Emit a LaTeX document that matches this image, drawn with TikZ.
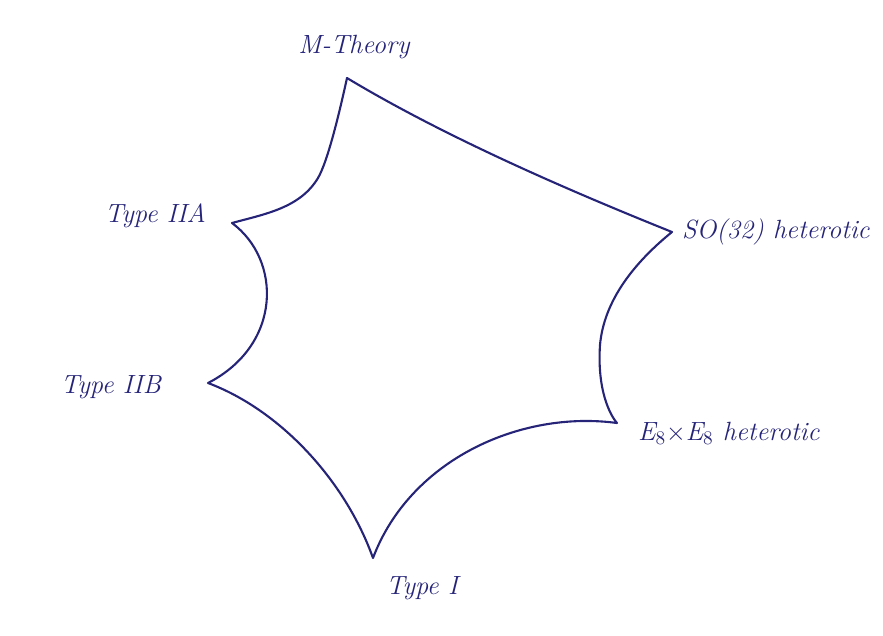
\documentclass[tikz,border=0pt]{standalone}
\begin{document}
\begin{tikzpicture}[x=0.02cm,y=-0.02cm,
  ink/.style={draw=inkblue,line width=1.2pt,line join=round},
  lab/.style={text=inkblue,font=\fontsize{15}{17}\selectfont\itshape,inner sep=1pt}]
\definecolor{inkblue}{RGB}{38,36,120}
\useasboundingbox (0,0) rectangle (883,636);
\coordinate (M) at (347,78);
\coordinate (A) at (232,223);
\coordinate (S) at (672,232);
\coordinate (B) at (208,383);
\coordinate (E) at (617,423);
\coordinate (I) at (373,558);
\coordinate (r) at (600,345);
\coordinate (l) at (318,178);
\draw[ink] (M) .. controls (450,140) and (580,195) .. (S)
  .. controls (635,262) and (604,300) .. (r)
  .. controls (597,390) and (610,415) .. (E)
  .. controls (520,410) and (410,460) .. (I)
  .. controls (345,480) and (280,410) .. (B)
  .. controls (282,345) and (282,260) .. (A)
  .. controls (265,214) and (300,208) .. (l)
  .. controls (328,161) and (340,110) .. (M) -- cycle;
\node[lab] (mt) at (354,47) {M-Theory};
\node[lab,anchor=east] (iia) at (208,216) {Type IIA};
\node[lab,anchor=east] (iib) at (163,387) {Type IIB};
\node[lab,anchor=west] (so) at (680,232) {SO(32) heterotic};
\node[lab,anchor=west] (e8) at (636,433) {E$_8\times$E$_8$ heterotic};
\node[lab] (ti) at (422,588) {Type I};
\end{tikzpicture}
\end{document}
